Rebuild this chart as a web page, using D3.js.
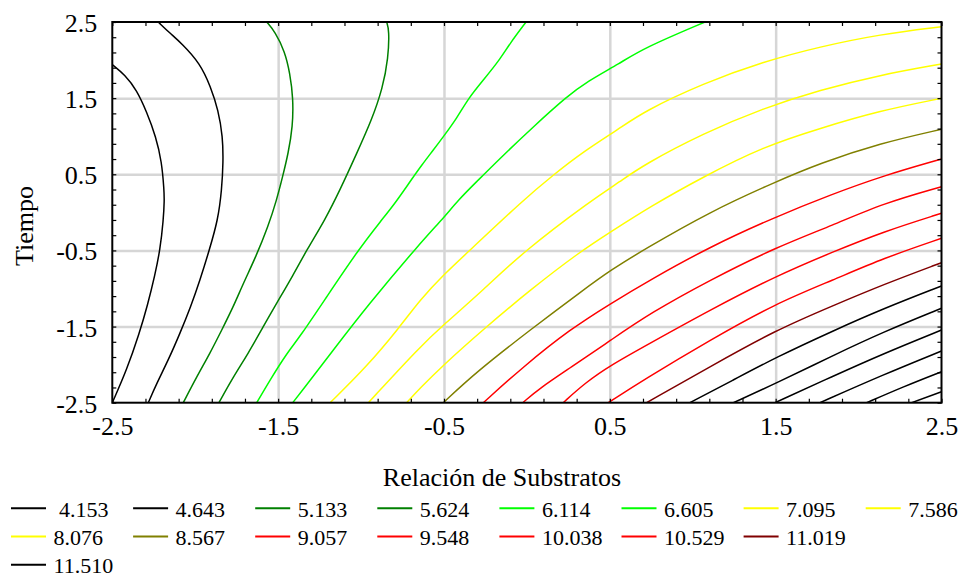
<!DOCTYPE html>
<html>
<head>
<meta charset="utf-8">
<script src="https://cdn.jsdelivr.net/npm/d3@7"></script>
<style>
  body { margin: 0; background: #fff; }
  svg text { font-family: "Liberation Serif", "Times New Roman", serif; fill: #000; }
</style>
</head>
<body>
<svg id="chart" width="964" height="579"></svg>
<script>
// Contour levels of the fitted response (Relación de Substratos vs Tiempo)
const levels = [4.153, 4.643, 5.133, 5.624, 6.114, 6.605, 7.095, 7.586, 8.076, 8.567,
                9.057, 9.548, 10.038, 10.529, 11.019, 11.510, 12.000, 12.491, 12.981, 13.472, 13.962];
// Legend shows the first sixteen levels
const legendLabels = [" 4.153", "4.643", "5.133", "5.624", "6.114", "6.605", "7.095", "7.586",
                      "8.076", "8.567", "9.057", "9.548", "10.038", "10.529", "11.019", "11.510"];
const xTicks = [-2.5, -1.5, -0.5, 0.5, 1.5, 2.5];
const yTicks = [-2.5, -1.5, -0.5, 0.5, 1.5, 2.5];
const gridValues = [-1.5, -0.5, 0.5, 1.5];

// Isolines as [Relación de Substratos, Tiempo] pairs, one array per level
const iso_4_153 = [[-2.5,1.94],[-2.423,1.804],[-2.353,1.607],[-2.293,1.322],[-2.237,0.994],[-2.202,0.665],[-2.188,0.294],[-2.186,0.162],[-2.192,-0.101],[-2.212,-0.495],[-2.243,-0.823],[-2.287,-1.217],[-2.337,-1.589],[-2.413,-2.07],[-2.5,-2.5]];
const iso_4_643 = [[-2.223,2.5],[-2.152,2.352],[-2.082,2.22],[-1.971,1.958],[-1.907,1.65],[-1.861,1.344],[-1.834,0.994],[-1.831,0.665],[-1.84,0.294],[-1.863,-0.101],[-1.915,-0.495],[-1.971,-0.889],[-2.027,-1.239],[-2.092,-1.589],[-2.162,-1.939],[-2.232,-2.245],[-2.283,-2.5]];
const iso_5_133 = [[-1.569,2.5],[-1.519,2.373],[-1.459,2.11],[-1.429,1.826],[-1.409,1.498],[-1.412,1.125],[-1.439,0.776],[-1.473,0.468],[-1.509,0.162],[-1.561,-0.189],[-1.634,-0.583],[-1.71,-0.932],[-1.77,-1.239],[-1.84,-1.545],[-1.911,-1.851],[-1.991,-2.159],[-2.072,-2.5]];
const iso_5_624 = [[-0.846,2.5],[-0.83,2.395],[-0.836,2.023],[-0.87,1.629],[-0.936,1.213],[-1.026,0.776],[-1.127,0.294],[-1.218,-0.101],[-1.328,-0.495],[-1.409,-0.823],[-1.509,-1.194],[-1.59,-1.502],[-1.68,-1.851],[-1.77,-2.159],[-1.857,-2.5]];
const iso_6_114 = [[-0.005,2.5],[-0.102,2.22],[-0.172,1.979],[-0.263,1.738],[-0.353,1.498],[-0.423,1.235],[-0.504,0.994],[-0.564,0.819],[-0.634,0.622],[-0.705,0.403],[-0.795,0.119],[-0.876,-0.1],[-1.017,-0.494],[-1.207,-1.108],[-1.368,-1.633],[-1.448,-1.851],[-1.549,-2.202],[-1.629,-2.5]];
const iso_6_605 = [[1.074,2.5],[0.702,2.155],[0.561,1.958],[0.361,1.716],[0.24,1.519],[0.039,1.125],[-0.162,0.71],[-0.303,0.403],[-0.414,0.162],[-0.504,-0.078],[-0.645,-0.406],[-0.966,-1.239],[-1.167,-1.808],[-1.368,-2.377],[-1.412,-2.5]];
const iso_7_095 = [[2.5,2.438],[2.129,2.338],[1.767,2.176],[1.425,1.979],[1.064,1.695],[0.702,1.322],[0.561,1.104],[0.34,0.797],[0.159,0.491],[-0.022,0.162],[-0.353,-0.517],[-0.504,-0.823],[-0.645,-1.151],[-0.765,-1.502],[-0.966,-2.027],[-1.187,-2.5]];
const iso_7_586 = [[2.5,1.948],[2.129,1.804],[1.767,1.607],[1.425,1.367],[1.064,1.038],[0.702,0.622],[0.561,0.403],[0.391,0.162],[-0.022,-0.517],[-0.263,-1.02],[-0.504,-1.48],[-0.645,-1.765],[-0.956,-2.5]];
const iso_8_076 = [[2.5,1.498],[2.129,1.335],[1.767,1.104],[1.425,0.862],[1.064,0.468],[0.742,0.074],[0.507,-0.254],[0.32,-0.517],[0.019,-1.02],[-0.263,-1.536],[-0.504,-2.005],[-0.645,-2.311],[-0.725,-2.5]];
const iso_8_567 = [[2.5,1.091],[2.129,0.907],[1.767,0.644],[1.502,0.403],[1.104,0.009],[0.702,-0.494],[0.507,-0.757],[0.34,-1.02],[0.019,-1.545],[-0.303,-2.093],[-0.504,-2.5]];
const iso_9_057 = [[2.5,0.7],[2.149,0.481],[1.828,0.228],[1.502,-0.057],[1.104,-0.451],[0.742,-0.888],[0.507,-1.195],[0.26,-1.536],[-0.022,-2.027],[-0.263,-2.5]];
const iso_9_548 = [[2.5,0.337],[2.149,0.119],[1.848,-0.166],[1.502,-0.459],[1.104,-0.888],[0.742,-1.326],[0.507,-1.677],[0.26,-2.044],[0.079,-2.307],[-0.025,-2.5]];
const iso_10_038 = [[2.5,-0.012],[2.149,-0.254],[1.848,-0.517],[1.502,-0.836],[1.104,-1.283],[0.742,-1.72],[0.507,-2.005],[0.35,-2.241],[0.219,-2.5]];
const iso_10_529 = [[2.5,-0.341],[2.149,-0.603],[1.848,-0.888],[1.502,-1.195],[1.104,-1.677],[0.702,-2.202],[0.491,-2.5]];
const iso_11_019 = [[2.5,-0.661],[2.149,-0.948],[1.848,-1.223],[1.502,-1.545],[1.104,-2.027],[0.722,-2.5]];
const iso_11_510 = [[2.5,-0.967],[2.149,-1.265],[1.848,-1.554],[1.502,-1.904],[1.245,-2.202],[0.983,-2.5]];
const iso_12_000 = [[2.5,-1.26],[2.149,-1.571],[1.848,-1.878],[1.502,-2.245],[1.245,-2.5]];
const iso_12_491 = [[2.5,-1.545],[2.149,-1.856],[1.848,-2.149],[1.496,-2.5]];
const iso_12_981 = [[2.5,-1.821],[2.149,-2.132],[1.767,-2.5]];
const iso_13_472 = [[2.5,-2.093],[2.27,-2.29],[2.049,-2.5]];
const iso_13_962 = [[2.5,-2.356],[2.32,-2.5]];

const isolines = [iso_4_153, iso_4_643, iso_5_133, iso_5_624, iso_6_114, iso_6_605, iso_7_095,
                  iso_7_586, iso_8_076, iso_8_567, iso_9_057, iso_9_548, iso_10_038, iso_10_529,
                  iso_11_019, iso_11_510, iso_12_000, iso_12_491, iso_12_981, iso_13_472, iso_13_962];

// Line colour per level
const levelColors = ["#000000", "#000000", "#008000", "#008000", "#00ff00", "#00ff00", "#ffff00",
                     "#ffff00", "#ffff00", "#808000", "#ff0000", "#ff0000", "#ff0000", "#ff0000",
                     "#800000", "#000000", "#000000", "#000000", "#000000", "#000000", "#000000"];

const svg = d3.select("#chart");
const plotLeft = 112.3, plotRight = 941.5, plotTop = 22, plotBottom = 402.7;
const x = d3.scaleLinear().domain([-2.5, 2.5]).range([plotLeft, plotRight]);
const y = d3.scaleLinear().domain([-2.5, 2.5]).range([plotBottom, plotTop]);
const fmt = d => d.toFixed(1);

svg.append("defs").append("clipPath").attr("id", "plotClip")
  .append("rect").attr("x", plotLeft).attr("y", plotTop)
  .attr("width", plotRight - plotLeft).attr("height", plotBottom - plotTop);

// grid
const grid = svg.append("g");
grid.append("g").attr("transform", `translate(0,${plotBottom})`)
  .call(d3.axisBottom(x).tickValues(gridValues).tickSize(-(plotBottom - plotTop)).tickFormat(""))
  .call(g => g.select(".domain").remove())
  .selectAll("line").attr("stroke", "#d6d6d6").attr("stroke-width", 2.5);
grid.append("g").attr("transform", `translate(${plotLeft},0)`)
  .call(d3.axisLeft(y).tickValues(gridValues).tickSize(-(plotRight - plotLeft)).tickFormat(""))
  .call(g => g.select(".domain").remove())
  .selectAll("line").attr("stroke", "#d6d6d6").attr("stroke-width", 2.5);

// isolines
const line = d3.line().x(d => x(d[0])).y(d => y(d[1])).curve(d3.curveBasis);
svg.append("g").attr("clip-path", "url(#plotClip)")
  .selectAll("path").data(isolines).join("path")
  .attr("d", line)
  .attr("fill", "none")
  .attr("stroke", (d, i) => levelColors[i])
  .attr("stroke-width", 1.5)
  .attr("stroke-linejoin", "round");

// inward minor ticks on all four sides
const minor = d3.range(26).map(i => +(-2.5 + i * 0.2).toFixed(1));
const tickLen = 4;
const frame = svg.append("g");
[[d3.axisBottom(x), `translate(0,${plotBottom})`],
 [d3.axisTop(x), `translate(0,${plotTop})`],
 [d3.axisLeft(y), `translate(${plotLeft},0)`],
 [d3.axisRight(y), `translate(${plotRight},0)`]].forEach(([ax, tr]) => {
  frame.append("g").attr("transform", tr)
    .call(ax.tickValues(minor).tickSize(-tickLen).tickFormat(""))
    .call(g => g.select(".domain").remove())
    .selectAll("line").attr("stroke", "#000").attr("stroke-width", 1.2);
});
frame.append("rect").attr("x", plotLeft).attr("y", plotTop)
  .attr("width", plotRight - plotLeft).attr("height", plotBottom - plotTop)
  .attr("fill", "none").attr("stroke", "#000").attr("stroke-width", 2);

// tick labels
svg.append("g").attr("transform", `translate(0,${plotBottom})`)
  .call(d3.axisBottom(x).tickValues(xTicks).tickSize(0).tickFormat(fmt))
  .call(g => g.select(".domain").remove())
  .selectAll("text")
  .attr("font-size", 26)
  .attr("y", 32.3).attr("dy", 0);
svg.append("g").attr("transform", `translate(${plotLeft},0)`)
  .call(d3.axisLeft(y).tickValues(yTicks).tickSize(0).tickFormat(fmt))
  .call(g => g.select(".domain").remove())
  .selectAll("text")
  .attr("font-size", 26)
  .attr("x", -15).attr("y", 9.5).attr("dy", 0);
svg.selectAll(".tick text").style("font-family", "'Liberation Serif', 'Times New Roman', serif");

// axis titles
svg.append("text").attr("x", 502).attr("y", 486)
  .attr("text-anchor", "middle").attr("font-size", 26)
  .text("Relación de Substratos");
svg.append("text")
  .attr("transform", "translate(33,226) rotate(-90)")
  .attr("text-anchor", "middle").attr("font-size", 26)
  .text("Tiempo");

// legend: rows hold 8, 7 and 1 entries (the wide last label wraps)
const rowCounts = [8, 7, 1];
const slots = [];
rowCounts.forEach((n, r) => { for (let c = 0; c < n; c++) slots.push([r, c]); });
const colW = 122.1, rowH = 28.3, x0 = 11, base0 = 516.7;
const items = svg.append("g").selectAll("g").data(legendLabels).join("g")
  .attr("transform", (d, i) => `translate(${x0 + slots[i][1] * colW},${base0 + slots[i][0] * rowH})`);
items.append("line")
  .attr("x1", 0).attr("x2", 35).attr("y1", -8.5).attr("y2", -8.5)
  .attr("stroke", (d, i) => levelColors[i]).attr("stroke-width", 2);
items.append("text")
  .attr("x", 42.5).attr("y", 0)
  .attr("font-size", 22)
  .style("white-space", "pre")
  .text(d => d);
</script>
</body>
</html>
